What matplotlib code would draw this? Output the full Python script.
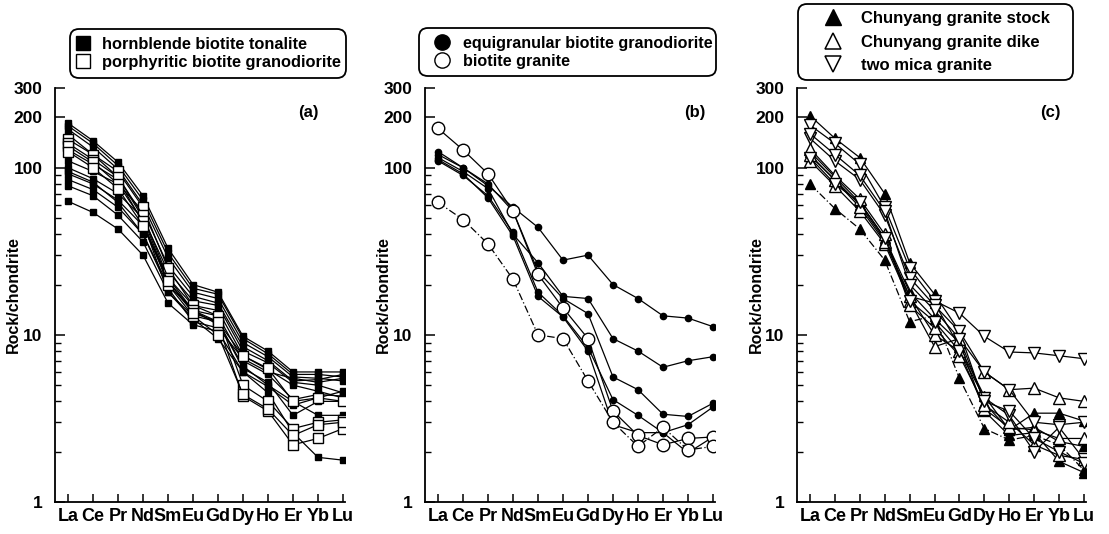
import matplotlib
matplotlib.use('Agg')
import matplotlib.pyplot as plt
from matplotlib.lines import Line2D
from matplotlib.ticker import LogLocator, NullFormatter, FixedLocator, FixedFormatter

plt.rcParams['font.family'] = ['Liberation Sans', 'DejaVu Sans']
plt.rcParams['font.weight'] = 'bold'

elements = ['La', 'Ce', 'Pr', 'Nd', 'Sm', 'Eu', 'Gd', 'Dy', 'Ho', 'Er', 'Yb', 'Lu']
y_ticks = [1, 10, 100, 200, 300]
y_ticklabels = ['1', '10', '100', '200', '300']

# ---------------- panel (a) ----------------
a_tonalite = [
    [185, 145, 108, 68, 33, 20, 18, 9.8, 8.0, 6.0, 6.0, 6.0],
    [178, 140, 103, 64, 31, 19, 17.5, 9.5, 7.7, 5.8, 5.8, 5.6],
    [170, 133, 98, 60, 29, 18, 16.5, 9.0, 7.4, 5.6, 5.5, 5.3],
    [110, 95, 80, 55, 26, 17, 15.5, 8.5, 7.0, 5.3, 5.4, 5.8],
    [100, 86, 70, 50, 24, 16, 15, 8.0, 6.8, 5.2, 5.0, 4.5],
    [92, 80, 64, 45, 22, 15, 14, 7.5, 6.2, 5.0, 4.6, 4.2],
    [85, 74, 58, 40, 20, 14, 13, 7.0, 5.8, 4.1, 4.4, 4.3],
    [78, 68, 52, 36, 18, 13, 12, 6.3, 5.2, 3.3, 4.0, 4.0],
    [63, 54, 43, 30, 15.5, 11.5, 10.5, 6.0, 4.9, 3.8, 4.2, 4.6],
    [158, 120, 88, 50, 21, 14, 12, 6.5, 5.0, 4.0, 3.3, 3.3],
    [128, 105, 85, 47, 18, 12.5, 9.5, 6.0, 4.5, 2.6, 1.85, 1.78],
    [95, 82, 62, 40, 19, 12, 11, 7.2, 6.0, 5.5, 5.2, 5.5],
]
a_porphyritic = [
    [148, 120, 95, 58, 25, 15, 13, 5.0, 4.0, 2.75, 3.0, 3.1],
    [140, 112, 88, 52, 22, 14, 11.5, 4.3, 3.5, 2.2, 2.4, 2.75],
    [135, 108, 80, 48, 20, 13, 10, 4.4, 3.6, 2.5, 2.9, 3.0],
    [125, 100, 75, 45, 21, 13.5, 12, 7.5, 6.3, 4.0, 4.2, 4.0],
]

# ---------------- panel (b) ----------------
b_equigranular = [
    [120, 100, 78, 58, 44, 28, 30, 20, 16.5, 13, 12.6, 11.2],
    [115, 95, 75, 40, 27, 17, 16.5, 9.5, 8.0, 6.4, 7.0, 7.4],
    [125, 100, 80, 55, 24, 16.5, 13.4, 5.6, 4.7, 3.35, 3.25, 3.9],
    [110, 90, 68, 41, 18, 13, 8.4, 4.1, 3.3, 2.6, 2.9, 3.7],
    [112, 92, 66, 39, 17, 12.8, 8.0, 2.9, 2.6, 2.6, 1.97, 2.45],
]
b_biotite = [
    [172, 128, 92, 55, 23, 14.5, 9.5, 3.5, 2.5, 2.2, 2.4, 2.45],
    [62, 49, 35, 21.5, 10, 9.5, 5.3, 3.0, 2.15, 2.8, 2.05, 2.15],
]

# ---------------- panel (c) ----------------
c_stock = [
    [205, 150, 115, 70, 27, 17.5, 10.5, 3.9, 2.7, 3.4, 3.4, 3.05],
    [80, 57, 43, 28, 12, 13, 5.5, 2.75, 2.35, 2.5, 2.2, 1.55],
    [118, 85, 60, 37, 17, 15.5, 8.5, 4.3, 2.7, 2.8, 2.3, 2.15],
    [125, 88, 62, 38, 18, 12.5, 9.0, 3.5, 2.5, 2.6, 1.75, 1.5],
]
c_dike = [
    [110, 78, 55, 35, 16, 8.5, 9.5, 6.0, 4.7, 4.8, 4.2, 4.0],
    [120, 84, 58, 36, 17, 10, 8.0, 3.6, 2.8, 2.7, 2.4, 2.4],
    [130, 90, 65, 40, 15, 11, 7.5, 3.8, 3.0, 2.2, 1.9, 1.8],
]
c_twomica = [
    [180, 140, 105, 58, 25, 16, 13.5, 9.8, 7.9, 7.8, 7.5, 7.2],
    [150, 110, 85, 52, 22, 15, 10.5, 6.0, 4.7, 3.0, 2.9, 3.0],
    [115, 80, 62, 38, 16, 12, 8.0, 4.2, 3.3, 2.0, 2.8, 1.8],
    [160, 120, 90, 55, 20, 14, 9.5, 4.0, 3.5, 2.4, 2.0, 1.7],
]

W, H = 1109, 534
fig = plt.figure(figsize=(W / 100, H / 100), dpi=100)


def make_ax(left_px, right_px, top_px=88, bottom_px=502):
    return fig.add_axes([left_px / W, 1 - bottom_px / H,
                         (right_px - left_px) / W, (bottom_px - top_px) / H])


def setup(ax, tag, tag_x):
    ax.set_yscale('log')
    ax.set_ylim(1, 300)
    ax.set_xlim(-0.52, 11.08)
    for s in ['top', 'right']:
        ax.spines[s].set_visible(False)
    for s in ['left', 'bottom']:
        ax.spines[s].set_linewidth(1.3)
    ax.xaxis.set_major_locator(FixedLocator(range(len(elements))))
    ax.xaxis.set_major_formatter(FixedFormatter(elements))
    ax.yaxis.set_major_locator(FixedLocator(y_ticks))
    ax.yaxis.set_major_formatter(FixedFormatter(y_ticklabels))
    ax.yaxis.set_minor_locator(LogLocator(base=10, subs=range(2, 10)))
    ax.yaxis.set_minor_formatter(NullFormatter())
    ax.tick_params(axis='x', direction='in', length=6, width=1.1, pad=4, labelsize=13)
    ax.tick_params(axis='y', which='major', direction='in', length=7, width=1.1, pad=9, labelsize=12.5)
    ax.tick_params(axis='y', which='minor', direction='in', length=4, width=1.0)
    ax.text(-0.142, 0.5, 'Rock/chondrite', transform=ax.transAxes, rotation=90,
            ha='center', va='center', fontsize=11.5, fontweight='bold')
    ax.text(tag_x, 0.94, tag, transform=ax.transAxes, ha='center', va='center',
            fontsize=12, fontweight='bold')


x = list(range(len(elements)))
lw = 0.9

# ---- (a)
axa = make_ax(55, 345)
setup(axa, '(a)', 0.875)
for i, s in enumerate(a_tonalite):
    axa.plot(x, s, color='black', lw=lw, marker='s', ms=4.8, mfc='black', mec='black')
for s in a_porphyritic:
    axa.plot(x, s, color='black', lw=lw, marker='s', ms=7.5, mfc='white', mec='black', mew=1.0)
ha = [Line2D([], [], ls='none', marker='s', ms=10, mfc='black', mec='black'),
      Line2D([], [], ls='none', marker='s', ms=10, mfc='white', mec='black', mew=1.0)]
lga = axa.legend(ha, ['hornblende biotite tonalite', 'porphyritic biotite granodiorite'],
                 loc='upper left', bbox_to_anchor=(70 / W, 1 - 80 / H, 276 / W, 51 / H),
                 bbox_transform=fig.transFigure, mode='expand', borderaxespad=0,
                 prop={'size': 11.8, 'weight': 'bold'}, handlelength=0.6, handletextpad=0.85,
                 borderpad=0.48, labelspacing=0.18, fancybox=True, framealpha=1)

# ---- (b)
axb = make_ax(425, 715)
setup(axb, '(b)', 0.93)
for i, s in enumerate(b_equigranular):
    axb.plot(x, s, color='black', lw=lw, marker='o', ms=4.5, mfc='black', mec='black')
for i, s in enumerate(b_biotite):
    axb.plot(x, s, color='black', lw=lw, ls='-' if i == 0 else (0, (6, 2, 1, 2)),
             marker='o', ms=9, mfc='white', mec='black', mew=1.0)
hb = [Line2D([], [], ls='none', marker='o', ms=11, mfc='black', mec='black'),
      Line2D([], [], ls='none', marker='o', ms=11, mfc='white', mec='black', mew=1.0)]
lgb = axb.legend(hb, ['equigranular biotite granodiorite', 'biotite granite'],
                 loc='upper left', bbox_to_anchor=(419 / W, 1 - 80 / H, 297 / W, 52 / H),
                 bbox_transform=fig.transFigure, mode='expand', borderaxespad=0,
                 prop={'size': 11.6, 'weight': 'bold'}, handlelength=1.92, handletextpad=0.36,
                 borderpad=0.48, labelspacing=0.18, fancybox=True, framealpha=1)

# ---- (c)
axc = make_ax(797, 1086)
setup(axc, '(c)', 0.878)
for i, s in enumerate(c_stock):
    axc.plot(x, s, color='black', lw=lw, ls='-' if i != 1 else (0, (6, 2, 1, 2)),
             marker='^', ms=6.5, mfc='black', mec='black')
for s in c_dike:
    axc.plot(x, s, color='black', lw=lw, marker='^', ms=8.5, mfc='white', mec='black', mew=1.0)
for s in c_twomica:
    axc.plot(x, s, color='black', lw=lw, marker='v', ms=8.5, mfc='white', mec='black', mew=1.0)
hc = [Line2D([], [], ls='none', marker='^', ms=12, mfc='black', mec='black'),
      Line2D([], [], ls='none', marker='^', ms=12, mfc='white', mec='black', mew=1.1),
      Line2D([], [], ls='none', marker='v', ms=12, mfc='white', mec='black', mew=1.1)]
lgc = axc.legend(hc, ['Chunyang granite stock', 'Chunyang granite dike', 'two mica granite'],
                 loc='upper left', bbox_to_anchor=(798 / W, 1 - 82 / H, 275 / W, 78 / H),
                 bbox_transform=fig.transFigure, mode='expand', borderaxespad=0,
                 prop={'size': 12, 'weight': 'bold'}, handlelength=3.3, handletextpad=0.02,
                 borderpad=0.43, labelspacing=0.5, fancybox=True, framealpha=1)

for lg in (lga, lgb, lgc):
    fr = lg.get_frame()
    fr.set_edgecolor('black')
    fr.set_linewidth(1.3)
    fr.set_boxstyle('round', pad=0, rounding_size=0.55)

fig.savefig('out.png', dpi=100)
